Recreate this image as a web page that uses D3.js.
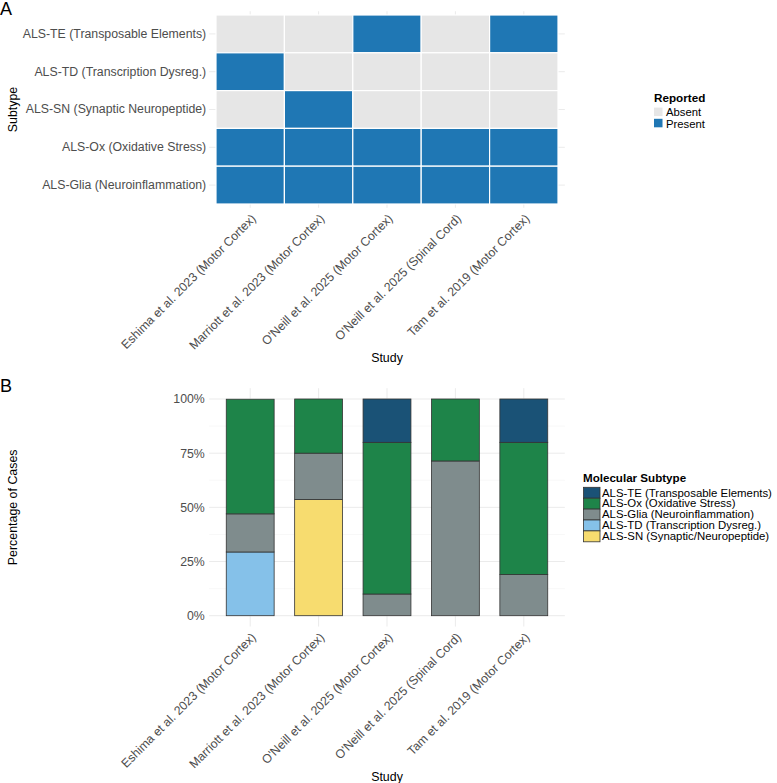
<!DOCTYPE html>
<html>
<head>
<meta charset="utf-8">
<script src="https://cdn.jsdelivr.net/npm/d3@7"></script>
<style>
  body { margin: 0; background: #fff; }
  svg text { font-family: "Liberation Sans", Arial, Helvetica, sans-serif; }
</style>
</head>
<body>
<div id="chart"></div>
<script>
// ALS molecular subtypes: presence heatmap (A) + stacked percentages (B)

const studies = [
  "Eshima et al. 2023 (Motor Cortex)",
  "Marriott et al. 2023 (Motor Cortex)",
  "O'Neill et al. 2025 (Motor Cortex)",
  "O'Neill et al. 2025 (Spinal Cord)",
  "Tam et al. 2019 (Motor Cortex)"
];

// panel A rows, top to bottom
const heatSubtypes = [
  "ALS-TE (Transposable Elements)",
  "ALS-TD (Transcription Dysreg.)",
  "ALS-SN (Synaptic Neuropeptide)",
  "ALS-Ox (Oxidative Stress)",
  "ALS-Glia (Neuroinflammation)"
];
// 1 = Present, 0 = Absent (one array per row, in study order)
const reportedTE   = [0, 0, 1, 0, 1];
const reportedTD   = [1, 0, 0, 0, 0];
const reportedSN   = [0, 1, 0, 0, 0];
const reportedOx   = [1, 1, 1, 1, 1];
const reportedGlia = [1, 1, 1, 1, 1];
const reportedLevels = ["Absent", "Present"];

// panel B, percent of cases per study
const stackKeys = ["SN", "TD", "Glia", "Ox", "TE"]; // bottom to top
const pctTE   = [0, 0, 20, 0, 20];
const pctOx   = [52.9, 25, 70, 28.6, 61];
const pctGlia = [17.6, 21.4, 10, 71.4, 19];
const pctTD   = [29.4, 0, 0, 0, 0];
const pctSN   = [0, 53.6, 0, 0, 0];
const legendKeys = ["TE", "Ox", "Glia", "TD", "SN"];
const legendLabels = [
  "ALS-TE (Transposable Elements)",
  "ALS-Ox (Oxidative Stress)",
  "ALS-Glia (Neuroinflammation)",
  "ALS-TD (Transcription Dysreg.)",
  "ALS-SN (Synaptic/Neuropeptide)"
];
const pctTicks = [0, 25, 50, 75, 100];

const subtypeColors = {
  TE: "#1a5276", Ox: "#1e8449", Glia: "#7f8c8d", TD: "#85c1e9", SN: "#f7dc6f"
};

const W = 777, H = 783;
const axisText = "#4d4d4d";
const gridCol = "#ebebeb";

const svg = d3.select("#chart").append("svg")
  .attr("width", W).attr("height", H);

// shared x positions
const x = d3.scaleBand().domain(studies).range([216, 558]).paddingInner(0).paddingOuter(0);
const xPad = x.bandwidth() * 0.1;
const panelLeft = x.range()[0] - xPad, panelRight = x.range()[1] + xPad;

// ---------- Panel A ----------
const yA = d3.scaleBand().domain(heatSubtypes).range([15, 204]);
const yPadA = yA.bandwidth() * 0.1;
const aTop = 15 - yPadA, aBottom = 204 + yPadA;

svg.append("text").attr("x", 0).attr("y", 14.5)
  .style("font-size", "18px").text("A");

const gA = svg.append("g");
gA.selectAll(".gx").data(studies).join("line")
  .attr("x1", d => x(d) + x.bandwidth() / 2).attr("x2", d => x(d) + x.bandwidth() / 2)
  .attr("y1", aTop).attr("y2", aBottom)
  .attr("stroke", gridCol).attr("stroke-width", 1);
gA.selectAll(".gy").data(heatSubtypes).join("line")
  .attr("x1", panelLeft).attr("x2", panelRight)
  .attr("y1", d => yA(d) + yA.bandwidth() / 2).attr("y2", d => yA(d) + yA.bandwidth() / 2)
  .attr("stroke", gridCol).attr("stroke-width", 1);

const heatRows = [reportedTE, reportedTD, reportedSN, reportedOx, reportedGlia];
const cells = [];
heatSubtypes.forEach((s, i) => {
  studies.forEach((st, j) => cells.push({ subtype: s, study: st, value: heatRows[i][j] }));
});
const heatColor = d3.scaleOrdinal().domain([0, 1]).range(["#e6e6e6", "#1f77b4"]);

gA.selectAll(".tile").data(cells).join("rect")
  .attr("x", d => x(d.study)).attr("y", d => yA(d.subtype))
  .attr("width", x.bandwidth()).attr("height", yA.bandwidth())
  .attr("fill", d => heatColor(d.value))
  .attr("stroke", "#fff").attr("stroke-width", 1.2);

const yAxisA = gA.append("g").attr("transform", `translate(${panelLeft},0)`)
  .call(d3.axisLeft(yA).tickSize(0).tickPadding(3));
yAxisA.select(".domain").remove();
yAxisA.selectAll("text").attr("fill", axisText).style("font-size", "12.3px").attr("font-family", null);

const xAxisA = gA.append("g").attr("transform", `translate(0,${aBottom})`)
  .call(d3.axisBottom(x).tickSize(0));
xAxisA.select(".domain").remove();
xAxisA.selectAll("text")
  .attr("x", 0).attr("y", 0).attr("dy", 0)
  .attr("text-anchor", "end")
  .attr("transform", "translate(6.5,11.5) rotate(-45)")
  .attr("fill", axisText).style("font-size", "12.3px").attr("font-family", null);

svg.append("text").attr("x", (panelLeft + panelRight) / 2).attr("y", 362)
  .attr("text-anchor", "middle").style("font-size", "12.4px").text("Study");
svg.append("text")
  .attr("transform", `translate(17,${(aTop + aBottom) / 2}) rotate(-90)`)
  .attr("text-anchor", "middle").style("font-size", "12.4px").text("Subtype");

// legend A
const legA = svg.append("g").attr("transform", "translate(654,0)");
legA.append("text").attr("x", 0).attr("y", 101.5)
  .style("font-size", "11.7px").style("font-weight", "bold").text("Reported");
reportedLevels.forEach((lab, i) => {
  legA.append("rect").attr("x", 0).attr("y", 107.6 + i * 11.2)
    .attr("width", 8.5).attr("height", 8.5).attr("fill", heatColor(i));
  legA.append("text").attr("x", 12).attr("y", 116.3 + i * 11.2)
    .style("font-size", "11.3px").attr("fill", "#000").text(lab);
});

// ---------- Panel B ----------
const yB = d3.scaleLinear().domain([0, 100]).range([615.7, 399]);
const bPad = (yB(0) - yB(100)) * 0.05;
const bTop = yB(100) - bPad, bBottom = yB(0) + bPad;

svg.append("text").attr("x", 0).attr("y", 391.7)
  .style("font-size", "18px").text("B");

const gB = svg.append("g");
const minorTicks = d3.range(12.5, 100, 25);
gB.selectAll(".gminor").data(minorTicks).join("line")
  .attr("x1", panelLeft).attr("x2", panelRight)
  .attr("y1", d => yB(d)).attr("y2", d => yB(d))
  .attr("stroke", "#f3f3f3").attr("stroke-width", 0.6);
gB.selectAll(".gmajor").data(pctTicks).join("line")
  .attr("x1", panelLeft).attr("x2", panelRight)
  .attr("y1", d => yB(d)).attr("y2", d => yB(d))
  .attr("stroke", gridCol).attr("stroke-width", 1);
gB.selectAll(".gx").data(studies).join("line")
  .attr("x1", d => x(d) + x.bandwidth() / 2).attr("x2", d => x(d) + x.bandwidth() / 2)
  .attr("y1", bTop).attr("y2", bBottom)
  .attr("stroke", gridCol).attr("stroke-width", 1);

const pctByKey = { TE: pctTE, Ox: pctOx, Glia: pctGlia, TD: pctTD, SN: pctSN };
const table = studies.map((s, j) => {
  const row = { study: s };
  stackKeys.forEach(k => row[k] = pctByKey[k][j]);
  return row;
});
const series = d3.stack().keys(stackKeys)(table);
const barW = x.bandwidth() * 0.7;

gB.selectAll(".layer").data(series).join("g")
  .attr("fill", d => subtypeColors[d.key])
  .selectAll("rect").data(d => d.filter(p => p[1] - p[0] > 0)).join("rect")
  .attr("x", d => x(d.data.study) + (x.bandwidth() - barW) / 2)
  .attr("y", d => yB(d[1]))
  .attr("width", barW)
  .attr("height", d => yB(d[0]) - yB(d[1]))
  .attr("stroke", "#333").attr("stroke-width", 0.8);

const yAxisB = gB.append("g").attr("transform", `translate(${panelLeft},0)`)
  .call(d3.axisLeft(yB).tickValues(pctTicks).tickFormat(d => d + "%").tickSize(0).tickPadding(4.4));
yAxisB.select(".domain").remove();
yAxisB.selectAll("text").attr("fill", axisText).style("font-size", "12.3px").attr("font-family", null);

const xAxisB = gB.append("g").attr("transform", `translate(0,${bBottom})`)
  .call(d3.axisBottom(x).tickSize(0));
xAxisB.select(".domain").remove();
xAxisB.selectAll("text")
  .attr("x", 0).attr("y", 0).attr("dy", 0)
  .attr("text-anchor", "end")
  .attr("transform", "translate(6.5,11.5) rotate(-45)")
  .attr("fill", axisText).style("font-size", "12.3px").attr("font-family", null);

svg.append("text").attr("x", (panelLeft + panelRight) / 2).attr("y", 781)
  .attr("text-anchor", "middle").style("font-size", "12.4px").text("Study");
svg.append("text")
  .attr("transform", `translate(17,${(bTop + bBottom) / 2}) rotate(-90)`)
  .attr("text-anchor", "middle").style("font-size", "12.4px").text("Percentage of Cases");

// legend B
const legB = svg.append("g").attr("transform", "translate(583,0)");
legB.append("text").attr("x", 0).attr("y", 482.3)
  .style("font-size", "11.6px").style("font-weight", "bold").text("Molecular Subtype");
legendKeys.forEach((k, i) => {
  legB.append("rect").attr("x", 0.5).attr("y", 487.3 + i * 10.9)
    .attr("width", 16.5).attr("height", 10.9)
    .attr("fill", subtypeColors[k]).attr("stroke", "#333").attr("stroke-width", 0.8);
  legB.append("text").attr("x", 19).attr("y", 487.3 + i * 10.9 + 9.2)
    .style("font-size", "11.4px").text(legendLabels[i]);
});
</script>
</body>
</html>
